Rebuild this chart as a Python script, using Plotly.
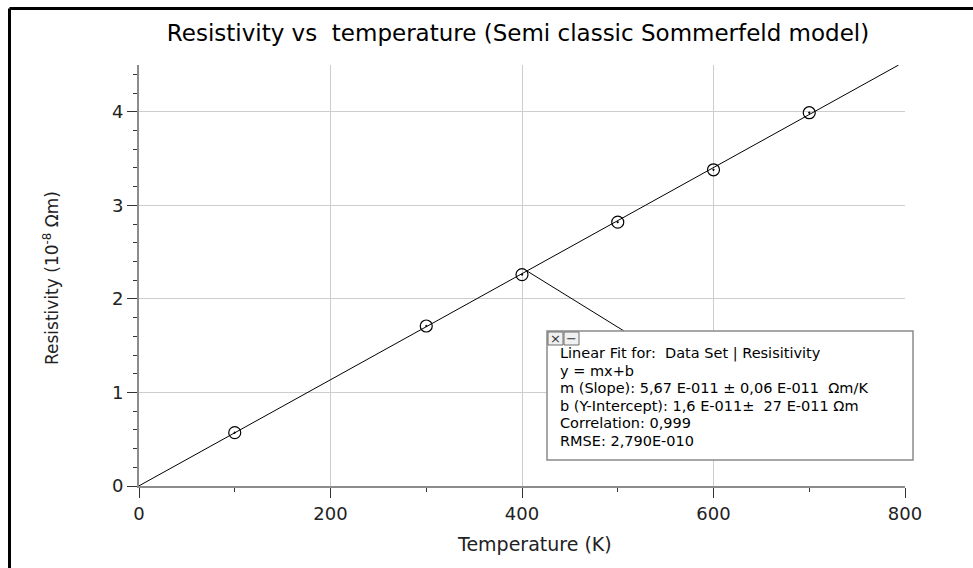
import plotly.graph_objects as go

# ---- data ----
temperature = [100, 300, 400, 500, 600, 700]          # K
resistivity = [0.57, 1.71, 2.26, 2.82, 3.38, 3.99]    # 10^-8 Ohm m
fit_slope = 0.00567       # 10^-8 Ohm m / K  (5.67E-11 Ohm m/K)
fit_intercept = 0.0016    # 10^-8 Ohm m      (1.6E-11 Ohm m)
x_range = [0, 800]
y_range = [0, 4.5]
x_ticks = [0, 200, 400, 600, 800]
y_ticks = [0, 1, 2, 3, 4]
fit_lines = [
    "Linear Fit for:\u00a0 Data Set | Resisitivity",
    "y = mx+b",
    "m (Slope): 5,67\u00a0E-011 \u00b1 0,06 E-011 \u00a0\u03a9m/K",
    "b (Y-Intercept): 1,6 E-011\u00b1 \u00a027 E-011 \u03a9m",
    "Correlation: 0,999",
    "RMSE: 2,790E-010",
]

W, H = 973, 568
L, R, T, B = 139, 68, 65, 82
PW, PH = W - L - R, H - T - B

def px(xp):  # pixel x -> paper x
    return (xp - L) / PW

def py(yp):  # pixel y -> paper y
    return (H - B - yp) / PH

FONT = "DejaVu Sans"

fig = go.Figure()

# fit line over the visible range
x_end = (y_range[1] - fit_intercept) / fit_slope
fig.add_trace(go.Scatter(
    x=[x_range[0], x_end],
    y=[fit_slope * x_range[0] + fit_intercept, fit_slope * x_end + fit_intercept],
    mode="lines", line=dict(color="black", width=1), hoverinfo="skip",
    showlegend=False))

fig.add_trace(go.Scatter(
    x=temperature, y=resistivity, mode="markers",
    marker=dict(symbol="circle-open-dot", size=12, color="black",
                line=dict(color="black", width=1.2)),
    showlegend=False))

axis_common = dict(
    showline=True, linecolor="#8c8c8c", linewidth=2,
    showgrid=True, gridcolor="#cdcdcd", gridwidth=1,
    zeroline=False, ticks="outside", ticklen=10, tickwidth=1,
    tickcolor="#333333",
    tickfont=dict(family=FONT, size=18, color="#222222"),
)

fig.update_xaxes(range=x_range, tickvals=x_ticks, **axis_common,
                 minor=dict(dtick=100, ticklen=4, tickcolor="#333333",
                            ticks="outside", showgrid=False))
fig.update_yaxes(range=y_range, tickvals=y_ticks, **axis_common,
                 minor=dict(dtick=0.2, ticklen=4, tickcolor="#333333",
                            ticks="outside", showgrid=False))

shapes = []
# outer frame (top and left edges)
shapes.append(dict(type="line", xref="paper", yref="paper",
                   x0=px(9.5), x1=px(W + 5), y0=py(8.5), y1=py(8.5),
                   line=dict(color="black", width=3)))
shapes.append(dict(type="line", xref="paper", yref="paper",
                   x0=px(9.5), x1=px(9.5), y0=py(8.5), y1=py(H + 5),
                   line=dict(color="black", width=3)))
# leader line from the data point to the fit box
shapes.append(dict(type="line", xref="paper", yref="paper",
                   x0=px(527), y0=py(271), x1=px(624), y1=py(331),
                   line=dict(color="black", width=1)))
# fit box
shapes.append(dict(type="rect", xref="paper", yref="paper",
                   x0=px(547), x1=px(913), y0=py(460), y1=py(331),
                   fillcolor="white", line=dict(color="#8a8a8a", width=1.5)))
# close / minimise buttons
for bx0, bx1 in [(548, 563), (564, 579)]:
    shapes.append(dict(type="rect", xref="paper", yref="paper",
                       x0=px(bx0), x1=px(bx1), y0=py(345), y1=py(332),
                       fillcolor="#f0f0f0", line=dict(color="#6e6e6e", width=1)))

annotations = []
annotations.append(dict(text="\u00d7", xref="paper", yref="paper",
                        x=px(555.5), y=py(338.5), showarrow=False,
                        font=dict(family=FONT, size=13, color="#333333")))
annotations.append(dict(text="\u2212", xref="paper", yref="paper",
                        x=px(571.5), y=py(338.5), showarrow=False,
                        font=dict(family=FONT, size=13, color="#333333")))
line_y = [353, 370.5, 388, 405.5, 423, 440.5]
for txt, yc in zip(fit_lines, line_y):
    annotations.append(dict(text=txt, xref="paper", yref="paper",
                            x=px(558), y=py(yc), xanchor="left", yanchor="middle",
                            showarrow=False, align="left",
                            font=dict(family=FONT, size=14.5, color="black")))

# axis titles
annotations.append(dict(text="Temperature (K)", xref="paper", yref="paper",
                        x=px(534), y=py(544), showarrow=False,
                        xanchor="center", yanchor="middle",
                        font=dict(family=FONT, size=19, color="#222222")))
annotations.append(dict(text="Resistivity (10<sup>-8</sup> \u03a9m)", xref="paper",
                        yref="paper", x=px(51), y=py(278), showarrow=False,
                        textangle=-90, xanchor="center", yanchor="middle",
                        font=dict(family=FONT, size=17, color="#222222")))

fig.update_layout(
    width=W, height=H,
    margin=dict(l=L, r=R, t=T, b=B),
    paper_bgcolor="white", plot_bgcolor="white",
    title=dict(text="Resistivity vs\u00a0 temperature (Semi classic Sommerfeld model)",
               x=px(518), xref="paper", xanchor="center",
               y=1 - 33 / H, yref="container", yanchor="middle",
               font=dict(family=FONT, size=23, color="black")),
    shapes=shapes, annotations=annotations,
    showlegend=False,
)

fig.write_html("out.html",
               config={"displayModeBar": False},
               post_script="document.body.style.margin='0px';document.body.style.padding='0px';")
